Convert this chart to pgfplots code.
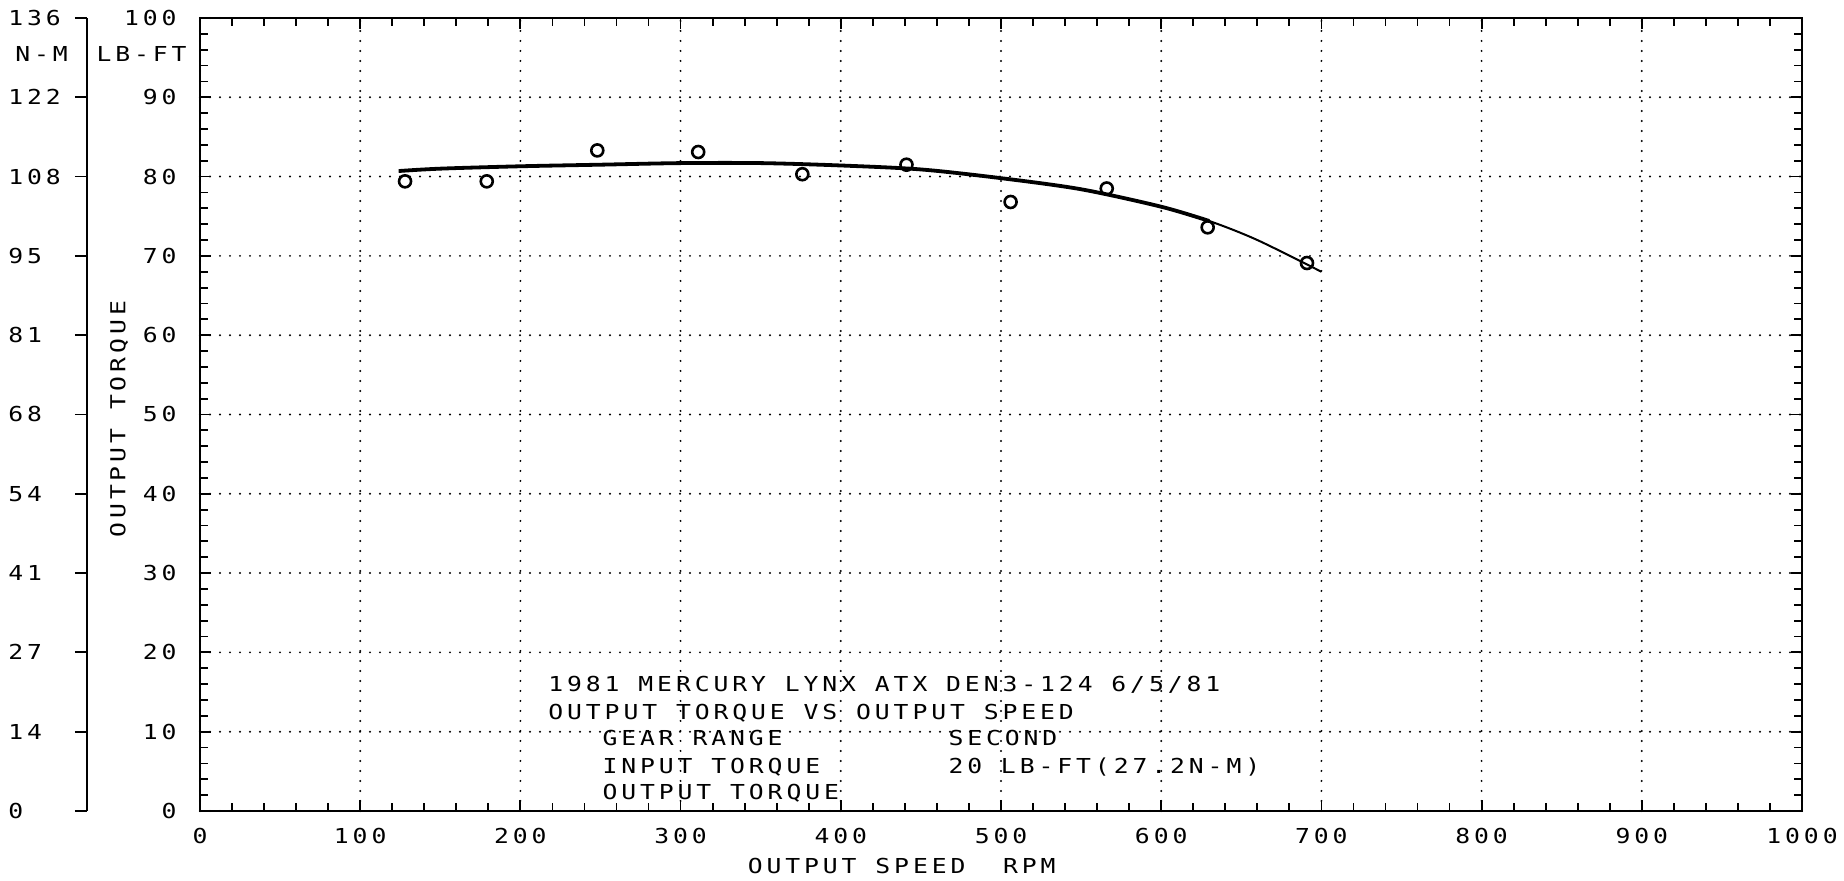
\documentclass[border=0pt]{standalone}
\usepackage{fontspec}
\usepackage{pgfplots}
\pgfplotsset{compat=1.18}
\newfontfamily\pf{DejaVu Sans Mono}[FakeStretch=1.2, LetterSpace=19]
\newcommand{\pff}{\pf\fontsize{10.3}{12}\selectfont}
\begin{document}
\begin{tikzpicture}
\useasboundingbox (-100pt,-35pt) rectangle (822pt,405.5pt);
% secondary N-M axis
\begin{axis}[
  at={(-56.5pt,0pt)}, anchor=south west, scale only axis,
  width=10pt, height=396.5pt,
  xmin=0, xmax=1, ymin=0, ymax=100,
  axis y line*=left, hide x axis,
  axis line style={-, line width=1.2pt},
  ytick={0,10,...,100},
  yticklabels={0,14,27,41,54,68,81,95,108,122,136},
  tick align=outside, major tick length=6pt,
  tick style={black, line width=0.9pt},
  /pgf/number format/assume math mode=true,
  yticklabel style={font=\pff, anchor=west, inner sep=0pt, xshift=-33.5pt, text height=7.5pt, text depth=0pt},
]
\end{axis}
% main axis
\begin{axis}[
  at={(0pt,0pt)}, anchor=south west, scale only axis,
  width=801pt, height=396.5pt,
  xmin=0, xmax=1000, ymin=0, ymax=100,
  xtick={0,100,...,1000}, ytick={0,10,...,100},
  minor x tick num=4, minor y tick num=4,
  tick align=inside, major tick length=5.5pt, minor tick length=4pt,
  tick style={black, line width=0.9pt},
  axis line style={line width=1.3pt},
  grid=major,
  major grid style={black, line width=1.1pt, line cap=round, dash pattern=on 0pt off 5pt},
  /pgf/number format/assume math mode=true,
  /pgf/number format/1000 sep={},
  ticklabel style={font=\pff, inner sep=0pt, text height=7.5pt, text depth=0pt},
  xticklabel style={anchor=north, yshift=-8.5pt},
  yticklabel style={anchor=east, xshift=-11.5pt},
  xlabel={OUTPUT SPEED\ \ RPM},
  xlabel style={font=\pff, at={(axis description cs:0.438,-0.0694)}, anchor=center, inner sep=0pt, text height=7.5pt, text depth=0pt},
  ylabel={OUTPUT TORQUE},
  ylabel style={font=\pff, at={(axis description cs:-0.0512,0.494)}, anchor=center, inner sep=0pt, text height=7.5pt, text depth=0pt},
  clip=false,
]
\addplot[black, line width=1.9pt, smooth] coordinates {
  (124,80.7) (150,81.0) (200,81.3) (250,81.5) (300,81.7) (350,81.7)
  (400,81.4) (450,80.9) (500,79.8) (550,78.4) (600,76.2) (630,74.4)
};
\addplot[black, line width=1.0pt, smooth] coordinates {
  (600,76.2) (630,74.4) (660,72.0) (700,68.0)
};
\addplot[black, only marks, mark=o, mark size=3pt, mark options={line width=1.3pt}] coordinates {
  (128,79.4) (179,79.4) (248,83.3) (311,83.1) (376,80.3)
  (441,81.5) (506,76.8) (566,78.5) (629,73.6) (691,69.1)
};
\node[font=\pff, anchor=base east, inner sep=0pt] at (axis cs:-8.1,94.45) {LB-FT};
\node[font=\pff, anchor=base west, inner sep=0pt] at (axis cs:-115.5,94.45) {N-M};
\node[font=\pff, anchor=base west, inner sep=0pt] at (axis cs:217.2,15.13) {1981 MERCURY LYNX ATX DEN3-124 6/5/81};
\node[font=\pff, anchor=base west, inner sep=0pt] at (axis cs:217.2,11.54) {OUTPUT TORQUE VS OUTPUT SPEED};
\node[font=\pff, anchor=base west, inner sep=0pt] at (axis cs:251,8.20) {GEAR RANGE};
\node[font=\pff, anchor=base west, inner sep=0pt] at (axis cs:467,8.20) {SECOND};
\node[font=\pff, anchor=base west, inner sep=0pt] at (axis cs:251,4.79) {INPUT TORQUE};
\node[font=\pff, anchor=base west, inner sep=0pt] at (axis cs:467,4.79) {20 LB-FT(27.2N-M)};
\node[font=\pff, anchor=base west, inner sep=0pt] at (axis cs:251,1.39) {OUTPUT TORQUE};
\end{axis}
\end{tikzpicture}
\end{document}
